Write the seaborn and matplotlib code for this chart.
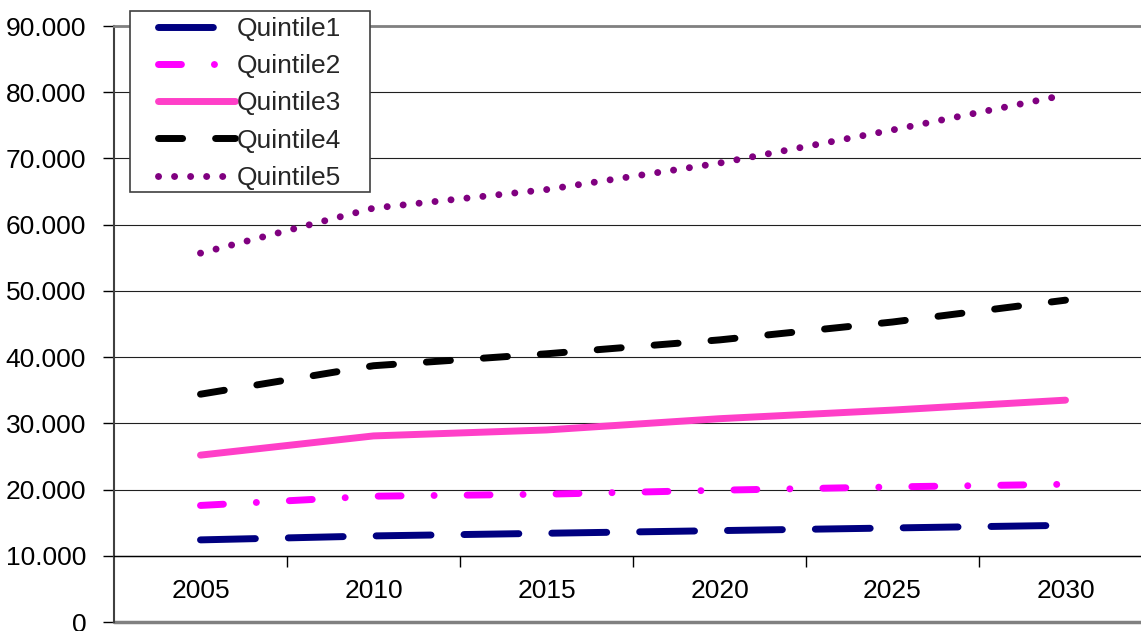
# income by quintile, 2005-2030 (values in thousands)

import pandas as pd
import seaborn as sns
import matplotlib.pyplot as plt
from matplotlib.patches import Rectangle
from matplotlib.ticker import FuncFormatter

years = ['2005', '2010', '2015', '2020', '2025', '2030']
quintile1 = [12.4, 13.0, 13.4, 13.8, 14.2, 14.6]
quintile2 = [17.6, 19.0, 19.3, 19.9, 20.4, 20.8]
quintile3 = [25.2, 28.1, 29.0, 30.7, 32.0, 33.5]
quintile4 = [34.4, 38.7, 40.5, 42.6, 45.3, 48.6]
quintile5 = [55.7, 62.5, 65.3, 69.3, 74.3, 79.6]
series_names = ['Quintile1', 'Quintile2', 'Quintile3', 'Quintile4', 'Quintile5']
y_ticks = [0, 10, 20, 30, 40, 50, 60, 70, 80, 90]

sns.set_style('white')
plt.rcParams['font.family'] = ['Liberation Sans', 'DejaVu Sans']

df = pd.DataFrame({'year': years * 5,
                   'value': quintile1 + quintile2 + quintile3 + quintile4 + quintile5,
                   'series': [s for s in series_names for _ in years]})

# line look per series: colour and dash pattern (in units of linewidth)
styles = {
    'Quintile1': ('#000080', (0, (7.9, 4.75))),
    'Quintile2': ('#FF00FF', (0, (3.3, 4.75, 0.01, 4.75))),
    'Quintile3': ('#FF3FC8', '-'),
    'Quintile4': ('#000000', (0, (3.47, 4.75))),
    'Quintile5': ('#800080', (0, (0.01, 2.3))),
}

W, H = 1141, 631
fs = 19
fig = plt.figure(figsize=(W / 100, H / 100), dpi=100)
ax = fig.add_axes([114 / W, 9 / H, 1027 / W, 596 / H])

for name in series_names:
    color, ls = styles[name]
    sns.lineplot(data=df[df['series'] == name], x='year', y='value', ax=ax,
                 color=color, linestyle=ls, lw=5, label=name,
                 dash_capstyle='round', solid_capstyle='round', zorder=3)

ax.set_xlim(-0.5, -0.5 + 1027 / 173)
ax.set_ylim(0, 90)
ax.set_xlabel('')
ax.set_ylabel('')

# y axis
ax.set_yticks(y_ticks)
ax.yaxis.set_major_formatter(FuncFormatter(lambda v, p: '0' if v == 0 else f'{v:.3f}'))
ax.tick_params(axis='y', left=True, direction='out', length=8, width=1, pad=12,
               labelsize=fs, colors='black')
ax.yaxis.grid(True, color='#202020', lw=0.8)
ax.set_axisbelow(True)

# category axis crosses at 10, ticks between categories
ax.spines['bottom'].set_position(('data', 10))
ax.spines['bottom'].set_color('black')
ax.spines['bottom'].set_linewidth(1)
ax.set_xticks(range(len(years)))
ax.set_xticklabels(years)
ax.set_xticks([i + 0.5 for i in range(len(years) - 1)], minor=True)
ax.tick_params(axis='x', which='major', length=0, pad=17, labelsize=fs, colors='black')
ax.tick_params(axis='x', which='minor', bottom=True, direction='out', length=8, width=1,
               color='black')

ax.spines['right'].set_visible(False)
ax.spines['top'].set_color('#808080')
ax.spines['top'].set_linewidth(2)
ax.spines['left'].set_color('#404040')
ax.spines['left'].set_linewidth(1.5)
ax.axhline(0, color='#808080', lw=2.5, clip_on=False, zorder=1)

# legend with its own frame
handles, labels = ax.get_legend_handles_labels()
ax.get_legend().remove()
fig.add_artist(Rectangle((130 / W, (H - 192) / H), 240 / W, 181 / H, transform=fig.transFigure,
                         facecolor='white', edgecolor='#404040', lw=1.2, zorder=4))
leg = fig.legend(handles, labels, loc='upper left', bbox_to_anchor=(158 / W, (H - 17) / H),
                 frameon=False, fontsize=fs, borderpad=0, borderaxespad=0, handlelength=2.9,
                 handletextpad=0.08, labelspacing=0.5)
leg.set_zorder(5)

plt.savefig('out.png', dpi=100)
